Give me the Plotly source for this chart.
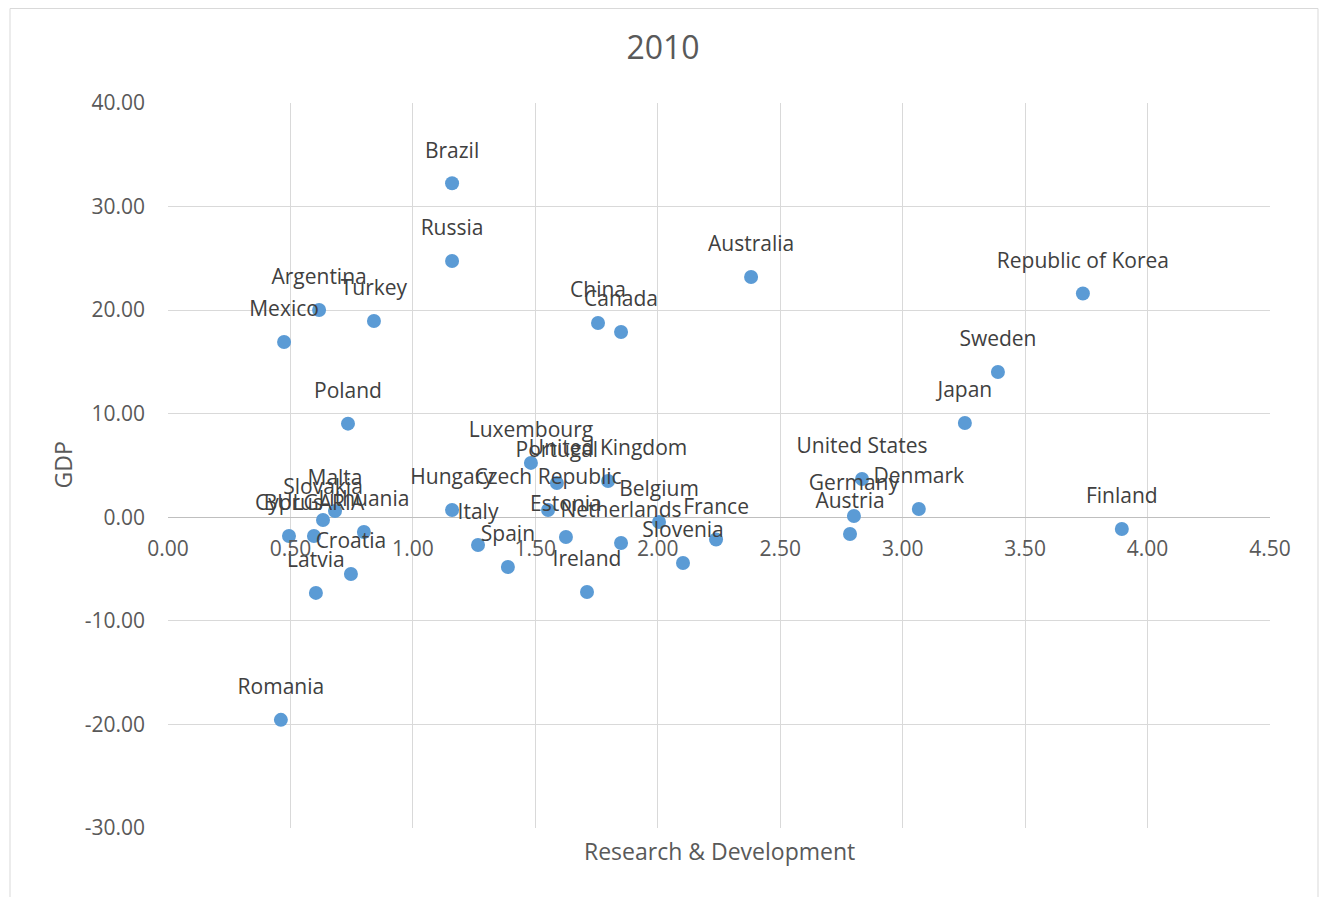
import plotly.graph_objects as go

countries = ["Brazil", "Russia", "Argentina", "Turkey", "Mexico", "Poland", "China", "Canada",
             "Australia", "Republic of Korea", "Sweden", "Japan", "United States", "Denmark",
             "Germany", "Austria", "Finland", "Luxembourg", "Portugal", "United Kingdom",
             "Hungary", "Czech Republic", "Estonia", "Italy", "Spain", "Ireland", "Netherlands",
             "Belgium", "France", "Slovenia", "Cyprus", "BULGARIA", "Slovakia", "Malta",
             "Lithuania", "Croatia", "Latvia", "Romania"]
rnd = [1.16, 1.16, 0.617, 0.841, 0.474, 0.735, 1.756, 1.85,
       2.381, 3.736, 3.389, 3.254, 2.834, 3.066,
       2.801, 2.785, 3.895, 1.482, 1.588, 1.797,
       1.16, 1.552, 1.625, 1.266, 1.388, 1.711, 1.85,
       2.005, 2.238, 2.103, 0.494, 0.596, 0.633, 0.682,
       0.80, 0.747, 0.604, 0.461]
gdp = [32.25, 24.75, 20.02, 18.95, 16.93, 9.04, 18.76, 17.89,
       23.2, 21.6, 14.03, 9.1, 3.7, 0.8,
       0.13, -1.61, -1.13, 5.25, 3.31, 3.5,
       0.7, 0.7, -1.9, -2.67, -4.8, -7.21, -2.48,
       -0.45, -2.15, -4.42, -1.8, -1.8, -0.26, 0.61,
       -1.42, -5.47, -7.3, -19.56]
x_ticks = [0, 0.5, 1, 1.5, 2, 2.5, 3, 3.5, 4, 4.5]
y_ticks = [-30, -20, -10, 0, 10, 20, 30, 40]

FONT = "Open Sans"
fig = go.Figure()
# markers
fig.add_trace(go.Scatter(
    x=rnd, y=gdp, mode="markers",
    marker=dict(size=14, color="#5b9bd5"),
    showlegend=False,
))
# data labels (invisible larger marker only sets the label offset)
fig.add_trace(go.Scatter(
    x=rnd, y=gdp, mode="markers+text", text=countries, textposition="top center",
    marker=dict(size=31, color="rgba(0,0,0,0)"),
    textfont=dict(family=FONT, size=21, color="#404040"),
    cliponaxis=False, showlegend=False, hoverinfo="skip",
))

L, T = 160, 95
fig.update_layout(
    width=1327, height=897,
    margin=dict(l=L, r=1327 - 1262, t=T, b=897 - 820),
    paper_bgcolor="white", plot_bgcolor="white",
    title=dict(text="2010", x=(663 - 8) / 1327, xref="container", xanchor="center",
               y=1 - 40 / 897, yref="container", yanchor="middle",
               font=dict(family=FONT, size=32, color="#595959")),
    xaxis=dict(range=[0, 4.5], tickvals=x_ticks, ticktext=[f"{v:.2f}" for v in x_ticks],
               anchor="free", position=30 / 70,
               showgrid=True, gridcolor="#d9d9d9", gridwidth=1,
               zeroline=False, showline=False, ticks="",
               ticklabelstandoff=17,
               tickfont=dict(family=FONT, size=21, color="#595959")),
    yaxis=dict(range=[-30, 40], tickvals=y_ticks, ticktext=[f"{v:.2f}" for v in y_ticks],
               showgrid=True, gridcolor="#d9d9d9", gridwidth=1,
               zeroline=True, zerolinecolor="#bfbfbf", zerolinewidth=1,
               showline=False, ticks="", ticklabelstandoff=22,
               tickfont=dict(family=FONT, size=21, color="#595959")),
    annotations=[
        dict(text="Research & Development", xref="paper", yref="paper",
             x=0.5, y=(820 - 843) / 725, xanchor="center", yanchor="middle",
             showarrow=False, font=dict(family=FONT, size=23, color="#595959")),
        dict(text="GDP", xref="paper", yref="paper", textangle=-90,
             x=(54 - L) / 1102, y=0.5, xanchor="center", yanchor="middle",
             showarrow=False, font=dict(family=FONT, size=23, color="#595959")),
    ],
    shapes=[dict(type="rect", xref="paper", yref="paper",
                 x0=(2 - L) / 1102, x1=(1310 - L) / 1102,
                 y0=(820 - 905) / 725, y1=(820 - 0.5) / 725,
                 line=dict(color="#d9d9d9", width=1), fillcolor="rgba(0,0,0,0)",
                 layer="below")],
)

fig.write_html("out.html")
